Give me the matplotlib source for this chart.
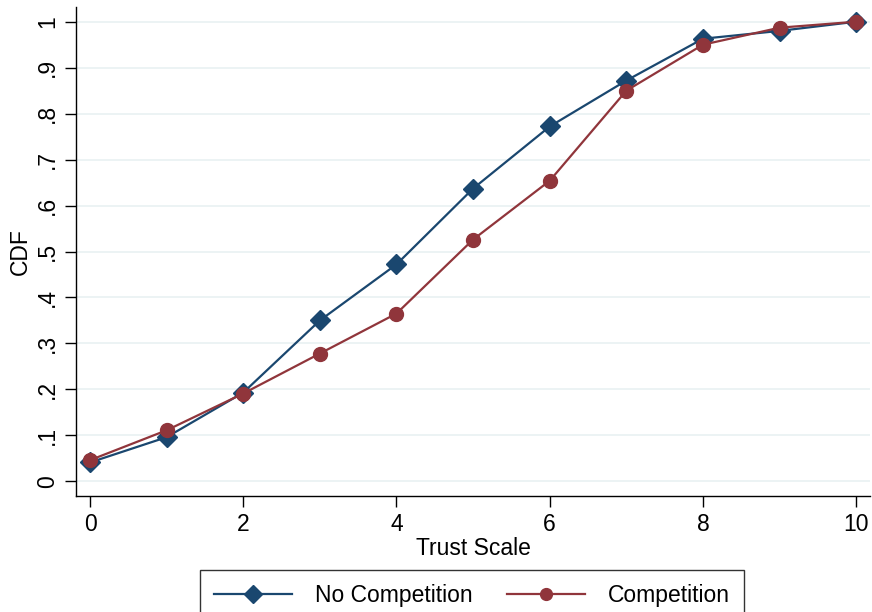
import matplotlib
matplotlib.use('Agg')
import matplotlib.pyplot as plt
from matplotlib.ticker import FixedLocator

trust = [0, 1, 2, 3, 4, 5, 6, 7, 8, 9, 10]
no_comp = [0.041, 0.096, 0.193, 0.350, 0.472, 0.637, 0.772, 0.872, 0.963, 0.980, 1.0]
comp = [0.046, 0.111, 0.191, 0.278, 0.365, 0.526, 0.654, 0.850, 0.950, 0.987, 1.0]
y_ticks = [0, .1, .2, .3, .4, .5, .6, .7, .8, .9, 1]
y_labels = ['0', '.1', '.2', '.3', '.4', '.5', '.6', '.7', '.8', '.9', '1']

navy = '#1a476f'
maroon = '#90353b'

plt.rcParams['font.family'] = ['Liberation Sans', 'DejaVu Sans']

fig = plt.figure(figsize=(8.72, 6.12), dpi=100)
ax = fig.add_axes([76 / 872, 1 - 496 / 612, (870 - 76) / 872, (496 - 7) / 612])

ax.plot(trust, no_comp, color=navy, lw=1.6, marker='D', ms=10.5,
        label='No Competition', zorder=3)
ax.plot(trust, comp, color=maroon, lw=1.6, marker='o', ms=10,
        label='Competition', zorder=4)

ax.set_xlim(-0.183, 10.18)
ax.set_ylim(-0.032, 1.032)
ax.set_xticks([0, 2, 4, 6, 8, 10])
ax.yaxis.set_major_locator(FixedLocator(y_ticks))
ax.set_yticklabels(y_labels, rotation=90, va='center')
ax.grid(axis='y', color='#eaf2f3', lw=1.3, zorder=0)
ax.set_axisbelow(True)

for s in ['top', 'right']:
    ax.spines[s].set_visible(False)
ax.spines['left'].set_linewidth(1.0)
ax.spines['bottom'].set_linewidth(1.0)
ax.tick_params(direction='out', length=8, width=1.0, labelsize=16.5, pad=4)

ax.set_xlabel('Trust Scale', fontsize=16.5, labelpad=1)
ax.set_ylabel('CDF', fontsize=16.5, labelpad=3)

# legend box sits below the x label, centred under the plot
leg = fig.legend(loc='upper center', bbox_to_anchor=(472 / 872, 1 - 570 / 612),
                 borderaxespad=0, ncol=2, fontsize=16.5, frameon=True,
                 fancybox=False, edgecolor='black', handlelength=3.4,
                 handletextpad=1.0, columnspacing=1.5, borderpad=0.6,
                 markerscale=0.85)
leg.get_frame().set_linewidth(1.0)

fig.savefig('out.png', dpi=100)
